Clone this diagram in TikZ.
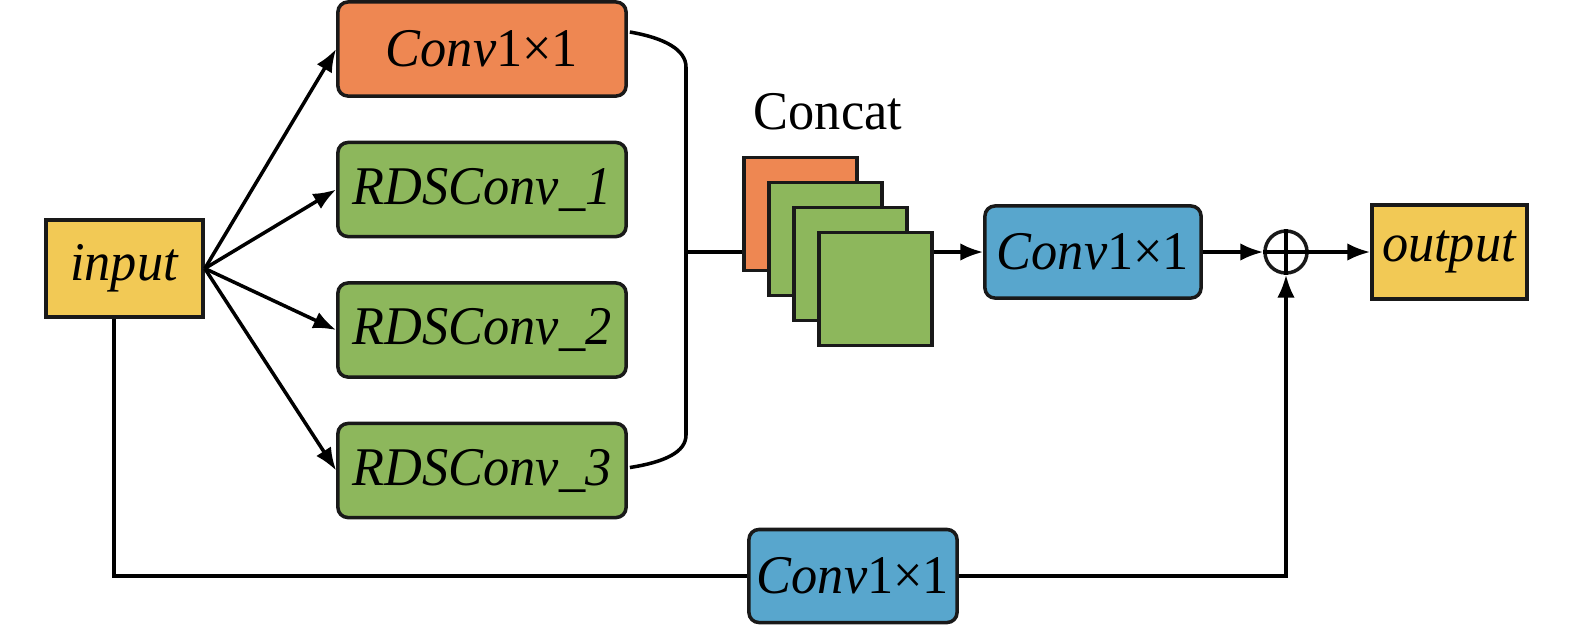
\documentclass[tikz,border=0pt]{standalone}
\usepackage{fontspec}
\setmainfont[FakeStretch=0.96]{Liberation Serif}
\usetikzlibrary{arrows.meta,calc,positioning}
\definecolor{convorange}{RGB}{238,135,82}
\definecolor{rdsgreen}{RGB}{141,183,92}
\definecolor{convblue}{RGB}{88,166,205}
\definecolor{ioyellow}{RGB}{242,201,85}
\tikzset{
  blk/.style={draw=black!90, line width=1pt, inner sep=0pt, font=\fontsize{15.5}{18}\selectfont},
  rblk/.style={blk, rounded corners=0.1cm, minimum width=2.88cm, minimum height=0.94cm},
  fmap/.style={blk, minimum size=1.13cm},
  arr/.style={-{Latex[length=6.5pt,width=5pt]}, line width=1pt},
  wire/.style={line width=1pt},
}
\newcommand{\convlbl}{\textit{Conv}1×1}
\begin{document}
\begin{tikzpicture}[x=0.01cm, y=-0.01cm]
  \useasboundingbox (0,0) rectangle (1575,626);
  % input and the four branches
  \node[blk, fill=ioyellow, minimum width=1.57cm, minimum height=0.97cm] (input) at (124.5,268.5) {\textit{input}};
  \node[rblk, fill=convorange] (c1) at (482,49) {\convlbl};
  \node[rblk, fill=rdsgreen] (r1) at (482,189.5) {\textit{RDSConv\_1}};
  \node[rblk, fill=rdsgreen] (r2) at (482,330) {\textit{RDSConv\_2}};
  \node[rblk, fill=rdsgreen] (r3) at (482,470.5) {\textit{RDSConv\_3}};
  \foreach \b in {c1,r1,r2,r3}
    \draw[arr] (input.east) -- (\b.west);
  % concat bracket
  \coordinate (j) at (686,252);
  \draw[wire] ($(c1.east)+(2,-17)$) .. controls (665,38) and (686,50) .. (686,67)
    -- (686,435) .. controls (686,452) and (665,462) .. ($(r3.east)+(2,-3)$);
  % stacked feature maps
  \node[fmap, fill=convorange] (f0) at (800.5,214) {};
  \node[fmap, fill=rdsgreen] (f1) at (825.5,239) {};
  \node[fmap, fill=rdsgreen] (f2) at (850.5,264) {};
  \node[fmap, fill=rdsgreen] (f3) at (875.5,289) {};
  \node[font=\fontsize{15.5}{18}\selectfont] (concat) at (828,112) {Concat};
  \draw[wire] (j) -- (j -| f0.west);
  % fusion and output
  \node[rblk, fill=convblue, minimum width=2.16cm, minimum height=0.92cm] (c2) at (1093,252) {\convlbl};
  \node[draw=black!90, line width=1pt, circle, minimum size=0.42cm, inner sep=0pt] (sum) at (1286,252) {};
  \draw[wire] (sum.north) -- (sum.south) (sum.west) -- (sum.east);
  \node[blk, fill=ioyellow, minimum width=1.55cm, minimum height=0.94cm] (output) at (1449.5,252) {\textit{output}};
  \draw[arr] (j -| f3.east) -- (c2.west);
  \draw[arr] (c2.east) -- (sum.west);
  \draw[arr] (sum.east) -- (output.west);
  % shortcut branch
  \node[rblk, fill=convblue, minimum width=2.08cm, minimum height=0.93cm] (c3) at (853,576) {\convlbl};
  \draw[wire] ($(input.south)+(-10.5,0)$) |- (c3.west);
  \draw[arr] (c3.east) -| (sum.south);
\end{tikzpicture}
\end{document}
